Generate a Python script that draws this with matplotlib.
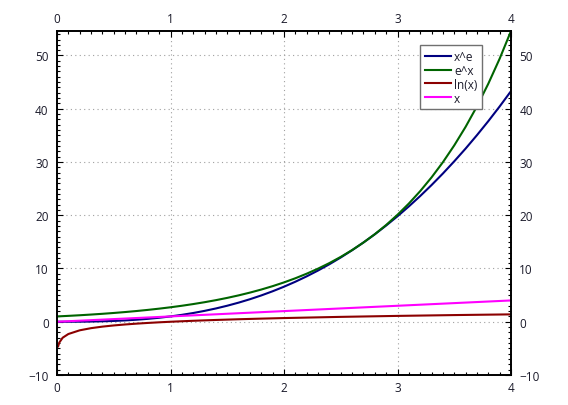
# x^e, e^x, ln(x) and x over 0..4, gnuplot-like look

import numpy as np
import matplotlib
matplotlib.use("Agg")
import matplotlib.pyplot as plt
from matplotlib.ticker import MultipleLocator

plt.rcParams['font.family'] = ['Open Sans', 'DejaVu Sans']

x = [0.0, 0.1, 0.2, 0.3, 0.4, 0.5, 0.6, 0.7, 0.8, 0.9, 1.0,
     1.1, 1.2, 1.3, 1.4, 1.5, 1.6, 1.7, 1.8, 1.9, 2.0,
     2.1, 2.2, 2.3, 2.4, 2.5, 2.6, 2.7, 2.8, 2.9, 3.0,
     3.1, 3.2, 3.3, 3.4, 3.5, 3.6, 3.7, 3.8, 3.9, 4.0]
x_pow_e = [0.0, 0.002, 0.013, 0.038, 0.083, 0.152, 0.249, 0.379, 0.545, 0.751, 1.0,
           1.296, 1.642, 2.041, 2.496, 3.011, 3.588, 4.231, 4.942, 5.725, 6.581,
           7.514, 8.528, 9.622, 10.80, 12.07, 13.43, 14.88, 16.42, 18.07, 19.81,
           21.66, 23.61, 25.67, 27.84, 30.13, 32.52, 35.04, 37.67, 40.43, 43.31]
exp_x = [1.0, 1.105, 1.221, 1.350, 1.492, 1.649, 1.822, 2.014, 2.226, 2.460, 2.718,
         3.004, 3.320, 3.669, 4.055, 4.482, 4.953, 5.474, 6.050, 6.686, 7.389,
         8.166, 9.025, 9.974, 11.02, 12.18, 13.46, 14.88, 16.44, 18.17, 20.09,
         22.20, 24.53, 27.11, 29.96, 33.12, 36.60, 40.45, 44.70, 49.40, 54.60]
x_ln = [0.01, 0.02, 0.05, 0.1, 0.2, 0.3, 0.4, 0.5, 0.6, 0.7, 0.8, 0.9, 1.0,
        1.2, 1.4, 1.6, 1.8, 2.0, 2.5, 3.0, 3.5, 4.0]
ln_x = [-4.605, -3.912, -2.996, -2.303, -1.609, -1.204, -0.916, -0.693, -0.511,
        -0.357, -0.223, -0.105, 0.0, 0.182, 0.336, 0.470, 0.588, 0.693, 0.916,
        1.099, 1.253, 1.386]
ident = [0.0, 4.0]
x_ident = [0.0, 4.0]

fig = plt.figure(figsize=(5.68, 4.06), dpi=100)
ax = fig.add_axes([57/568, 30/406, 454/568, 344/406])

ax.plot(x, x_pow_e, color="#000080", lw=1.5, label="x^e")
ax.plot(x, exp_x, color="#006400", lw=1.5, label="e^x")
ax.plot(x_ln, ln_x, color="#8b0000", lw=1.5, label="ln(x)")
ax.plot(x_ident, ident, color="#ff00ff", lw=1.5, label="x")

ax.set_xlim(0, 4)
ax.set_ylim(-10, 54.6)
ax.xaxis.set_major_locator(MultipleLocator(1))
ax.xaxis.set_minor_locator(MultipleLocator(0.1))
ax.yaxis.set_major_locator(MultipleLocator(10))
ax.yaxis.set_minor_locator(MultipleLocator(1))
ax.grid(True, which='major', color="#a0a0a0", ls=(0, (1, 3)), lw=0.8)

txtcol = "#1a1a2a"
ax.tick_params(which='both', direction='in', top=True, right=True,
               labeltop=True, labelright=True, labelsize=8.5,
               labelcolor=txtcol, width=0.8)
ax.tick_params(axis='x', which='both', pad=4)
ax.tick_params(axis='y', which='both', pad=6)
ax.tick_params(which='major', length=4)
ax.tick_params(which='minor', length=2)
for s in ax.spines.values():
    s.set_linewidth(1.4)

leg = ax.legend(loc='upper left', bbox_to_anchor=(420/568, 1-46/406),
                bbox_transform=fig.transFigure, borderaxespad=0,
                fontsize=8.5, handlelength=2.2, handletextpad=0.3,
                labelspacing=0.08, borderpad=0.4, fancybox=False,
                framealpha=1, edgecolor="#707070")
leg.get_frame().set_linewidth(1)
for t in leg.get_texts():
    t.set_color(txtcol)

plt.savefig("out.png", dpi=100)
